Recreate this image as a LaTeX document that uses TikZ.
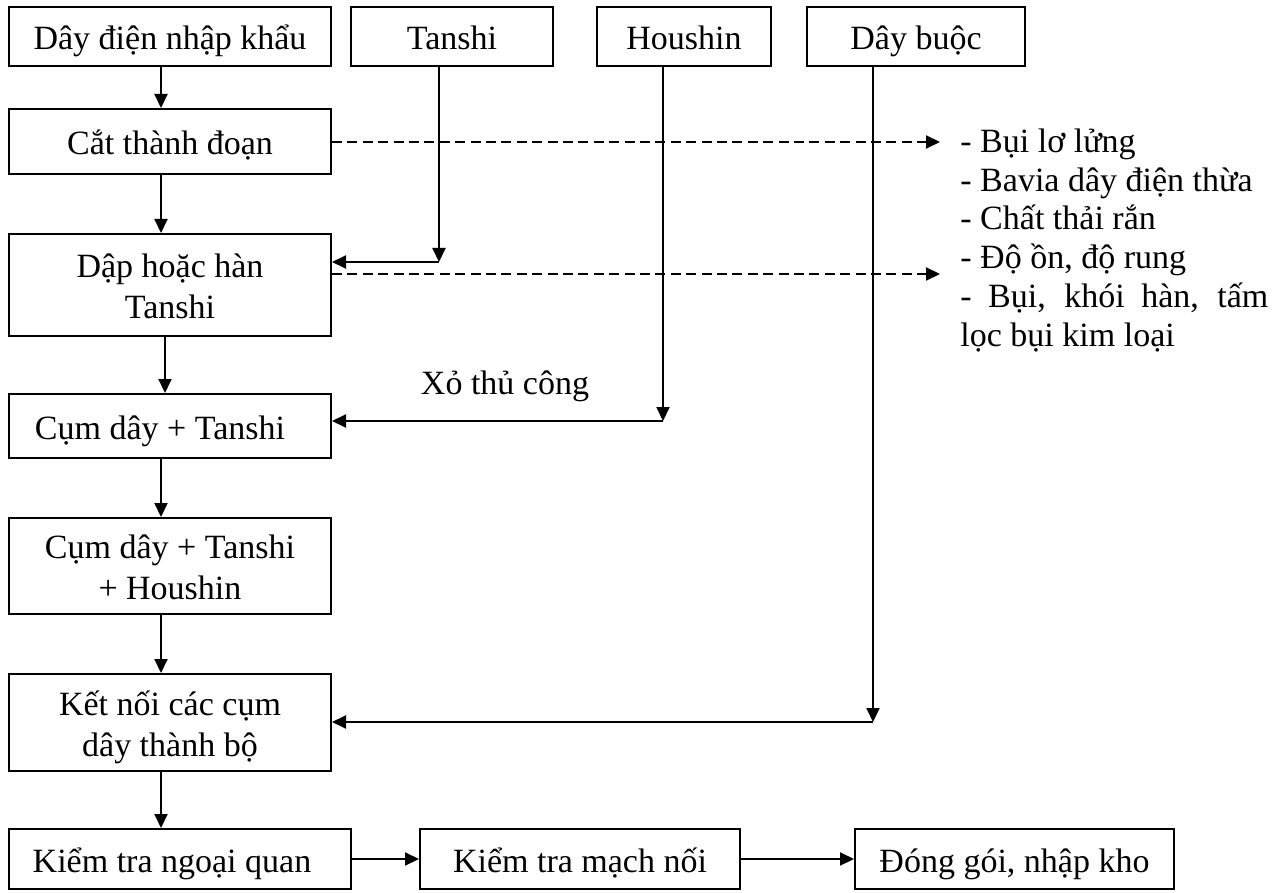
\documentclass[tikz,border=0pt]{standalone}
\usepackage{fontspec}
\setmainfont{Liberation Serif}
\usetikzlibrary{arrows.meta}
% fixed-size strut so every line in a box sits at the same level,
% whatever accents or descenders it carries
\newcommand\bstrut{\rule[-4.5pt]{0pt}{22.2pt}}
\begin{document}
\setlength{\lineskiplimit}{-30pt}
\begin{tikzpicture}[x=0.5pt, y=-0.5pt,
  font=\fontsize{17}{20.5}\selectfont,
  box/.style={draw, line width=1pt, align=center, inner sep=0pt},
  arr/.style={line width=1pt, -{Triangle[length=7pt, width=6.5pt]}},
  dasharr/.style={arr, dash pattern=on 5pt off 2.7pt},
  note/.style={anchor=base west, inner sep=0pt}
]
\useasboundingbox (0,0) rectangle (1285,893);

% inputs along the top
\node[box, minimum width=161pt, minimum height=29.5pt] (A) at (170,36.5) {\bstrut Dây điện nhập khẩu};
\node[box, minimum width=101pt, minimum height=29.5pt] (T) at (452,36.5) {\bstrut Tanshi};
\node[box, minimum width=87pt,  minimum height=29.5pt] (H) at (684,36.5) {\bstrut Houshin};
\node[box, minimum width=109pt, minimum height=29.5pt] (B) at (916,36.5) {\bstrut Dây buộc};

% main process column
\node[box, minimum width=161pt, minimum height=32.5pt] (C) at (170,141.5) {\bstrut Cắt thành đoạn};
\node[box, minimum width=161pt, minimum height=51pt]   (D) at (170,285)   {\bstrut Dập hoặc hàn\\\bstrut Tanshi};
\node[box, minimum width=161pt, minimum height=32pt]   (E) at (170,426)   {\hspace*{-10pt}\bstrut Cụm dây + Tanshi};
\node[box, minimum width=161pt, minimum height=48pt]   (F) at (170,566)   {\bstrut Cụm dây + Tanshi\\\bstrut + Houshin};
\node[box, minimum width=161pt, minimum height=48.5pt] (G) at (170,722.5) {\bstrut Kết nối các cụm\\\bstrut dây thành bộ};

% final checks row
\node[box, minimum width=171pt,   minimum height=30pt] (K1) at (180,859)    {\hspace*{-8pt}\bstrut Kiểm tra ngoại quan};
\node[box, minimum width=160pt,   minimum height=30pt] (K2) at (580,859)    {\bstrut Kiểm tra mạch nối};
\node[box, minimum width=159.5pt, minimum height=30pt] (K3) at (1014.5,859) {\bstrut Đóng gói, nhập kho};

% main flow
\draw[arr] ([xshift=-4.5pt]A.south) -- ([xshift=-4.5pt]C.north);
\draw[arr] ([xshift=-4.5pt]C.south) -- ([xshift=-4.5pt]D.north);
\draw[arr] ([xshift=-2.5pt]D.south) -- ([xshift=-2.5pt]E.north);
\draw[arr] ([xshift=-4.5pt]E.south) -- ([xshift=-4.5pt]F.north);
\draw[arr] ([xshift=-4.5pt]F.south) -- ([xshift=-4.5pt]G.north);
\draw[arr] ([xshift=-4.5pt]G.south) -- ([xshift=-4.5pt]G.south |- K1.north);
\draw[arr] (K1.east) -- (K2.west);
\draw[arr] (K2.east) -- (K3.west);

% material feeds from the top row
\coordinate (tc) at (439,262);
\coordinate (hc) at (663,421);
\coordinate (bc) at (873,722);
\draw[arr] ([xshift=-6.5pt]T.south) -- (tc);
\draw[arr] (tc) -- (tc -| D.east);
\draw[arr] ([xshift=-10.5pt]H.south) -- (hc);
\draw[arr] (hc) -- (hc -| E.east);
\draw[arr] ([xshift=-21.5pt]B.south) -- (bc);
\draw[arr] (bc) -- (bc -| G.east);
\node[anchor=base, inner sep=0pt] (xo) at (505,394) {Xỏ thủ công};

% waste streams
\coordinate (w1) at (940,142);
\coordinate (w2) at (940,274);
\draw[dasharr] (w1 -| C.east) -- (w1);
\draw[dasharr] (w2 -| D.east) -- (w2);

\node[note] (n1) at (960,153) {- Bụi lơ lửng};
\node[note] (n2) at (960,192) {- Bavia dây điện thừa};
\node[note] (n3) at (960,230) {- Chất thải rắn};
\node[note] (n4) at (960,269) {- Độ ồn, độ rung};
\node[note] (n5) at (960,307) {\makebox[154pt][s]{- Bụi, khói hàn, tấm}};
\node[note] (n6) at (960,346) {lọc bụi kim loại};
\end{tikzpicture}
\end{document}
